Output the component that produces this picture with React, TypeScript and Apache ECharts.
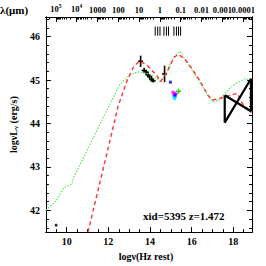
import React, { useEffect, useRef } from "react";
import * as echarts from "echarts";

const X_RANGE = [9, 18.9];
const Y_RANGE = [41.5, 46.45];
const C_LOG = 14.4768; // log10(c in micron/s)

const xMajor = [10, 12, 14, 16, 18];
const xMinor = [9, 9.5, 10, 10.5, 11, 11.5, 12, 12.5, 13, 13.5, 14, 14.5, 15, 15.5, 16, 16.5, 17, 17.5, 18, 18.5];
const yMajor = [42, 43, 44, 45, 46];
const lambdaDecades = [5, 4, 3, 2, 1, 0, -1, -2, -3, -4];
const lambdaLabels = ["10{sup|5}", "10{sup|4}", "1000", "100", "10", "1", "0.1", "0.01", "0.001", "0.0001"];

const greenTemplate = [
  [9.0, 42.0], [9.49, 42.22], [9.86, 42.52], [10.24, 42.6], [10.35, 42.78], [10.9, 43.31],
  [12.53, 44.88], [12.84, 45.03], [13.06, 45.12], [13.42, 45.19], [13.96, 45.14], [14.3, 45.05],
  [14.5, 44.95], [14.7, 45.1], [15.0, 45.4], [15.2, 45.55], [15.44, 45.66], [15.59, 45.55],
  [15.9, 45.33], [16.19, 45.1], [16.5, 44.87], [16.78, 44.65], [17.0, 44.5], [17.3, 44.54],
  [17.6, 44.69], [17.85, 44.82], [18.12, 44.92], [18.57, 45.03], [18.79, 44.99], [18.87, 44.77],
];

const redModel = [
  [11.02, 41.5], [11.95, 43.35], [12.47, 44.4], [12.91, 45.0], [13.21, 45.3], [13.5, 45.44],
  [13.88, 45.33], [14.33, 45.1], [14.5, 44.96], [14.85, 45.21], [15.15, 45.52], [15.37, 45.59],
  [15.67, 45.48], [16.0, 45.27], [16.33, 45.03], [16.78, 44.65], [17.0, 44.54], [17.38, 44.58],
  [17.67, 44.62], [18.0, 44.67], [18.2, 44.69], [18.42, 44.47], [18.87, 44.24],
];

const xrayBowtie = [
  [17.59, 44.65], [18.85, 44.28], [18.85, 45.03], [17.59, 44.02], [17.59, 44.65],
];

// [logNu, logNuLnu, error]
const blackPoints = [
  [13.55, 45.43, 0.13], [13.72, 45.22, 0.06], [13.82, 45.18, 0.05], [13.9, 45.12, 0.06],
  [13.98, 45.08, 0.05], [14.08, 45.02, 0.05], [14.15, 44.98, 0.04], [14.7, 45.14, 0.19],
];
const greenPoints = [[14.1, 45.0, 0.03], [15.37, 44.74, 0.06]];
const bluePoints = [[14.98, 44.95], [15.2, 44.65]];
const magentaPoints = [[15.1, 44.72], [15.18, 44.7], [15.25, 44.68], [15.14, 44.66]];
const cyanPoints = [[15.15, 44.6], [15.22, 44.62], [15.19, 44.57]];
const lowPoint = [[9.49, 41.66]];

const filterNu = [14.25, 14.37, 14.48, 14.67, 14.79, 14.89, 15.15, 15.27, 15.37, 15.47];
const FILTER_Y = [46.02, 46.23];

const FONT = "Liberation Serif";

export default function App() {
  const ref = useRef<HTMLDivElement>(null);
  useEffect(() => {
    if (!ref.current) return;
    const chart = echarts.init(ref.current, null, { renderer: "svg" });

    const topMajor = lambdaDecades.map((k) => C_LOG - k);
    const topMajorA = topMajor.filter((_, i) => i % 2 === 0);
    const topMajorB = topMajor.filter((_, i) => i % 2 === 1);
    const topMinor: number[] = [];
    for (let k = 6; k >= -5; k--) {
      for (let m = 2; m <= 9; m++) {
        const v = C_LOG - k - Math.log10(m);
        if (v >= X_RANGE[0] && v <= X_RANGE[1]) topMinor.push(v);
      }
    }
    const yMinor: number[] = [];
    for (let i = 0; i < 25; i++) {
      const v = Math.round((41.6 + i * 0.2) * 10) / 10;
      if (v <= Y_RANGE[1]) yMinor.push(v);
    }

    const baseX = {
      type: "value",
      min: X_RANGE[0],
      max: X_RANGE[1],
      splitLine: { show: false },
      axisLine: { show: true, lineStyle: { color: "#000", width: 1 } },
    };
    const baseY = {
      type: "value",
      min: Y_RANGE[0],
      max: Y_RANGE[1],
      splitLine: { show: false },
      axisLine: { show: true, lineStyle: { color: "#000", width: 1 } },
    };

    const errRender = (color: string) => (params: any, api: any) => {
      const x = api.value(0), y = api.value(1), e = api.value(2);
      const p = api.coord([x, y]);
      const hi = api.coord([x, y + e]);
      const lo = api.coord([x, y - e]);
      return {
        type: "group",
        children: [
          { type: "line", shape: { x1: p[0], y1: hi[1], x2: p[0], y2: lo[1] }, style: { stroke: color, lineWidth: 1.6 } },
          { type: "line", shape: { x1: p[0] - 2.5, y1: p[1], x2: p[0] + 2.5, y2: p[1] }, style: { stroke: color, lineWidth: 1.6 } },
        ],
      };
    };

    const labelStyle = { fontFamily: FONT, fontSize: 10, fontWeight: "bold", color: "#000" };

    const topLabel = (values: number[]) => ({
      ...baseX,
      position: "top",
      axisTick: { show: true, inside: true, length: 5, customValues: values, lineStyle: { color: "#000" } },
      axisLabel: {
        customValues: values,
        ...labelStyle,
        fontSize: 8.5,
        margin: 3,
        showMinLabel: true,
        showMaxLabel: true,
        formatter: (v: number) => {
          const k = Math.round(C_LOG - v);
          const i = lambdaDecades.indexOf(k);
          return i >= 0 ? lambdaLabels[i] : "";
        },
        rich: {
          sup: { fontFamily: FONT, fontSize: 5.5, fontWeight: "bold", color: "#000", verticalAlign: "top", padding: [0, 0, 5, 0] },
        },
      },
    });

    const option: any = {
      animation: false,
      backgroundColor: "#fff",
      grid: { left: 29, right: 14, top: 17, bottom: 29 },
      xAxis: [
        {
          ...baseX,
          position: "bottom",
          name: "log\u03bd(Hz rest)",
          nameLocation: "middle",
          nameGap: 16,
          nameTextStyle: { ...labelStyle, fontSize: 10, padding: [0, 6, 0, 0] },
          axisTick: { show: true, inside: true, length: 5, customValues: xMajor, lineStyle: { color: "#000" } },
          axisLabel: { customValues: xMajor, ...labelStyle, margin: 4, showMinLabel: true, showMaxLabel: true },
        },
        {
          ...baseX,
          position: "bottom",
          axisTick: { show: true, inside: true, length: 3, customValues: xMinor, lineStyle: { color: "#000" } },
          axisLabel: { show: false },
        },
        topLabel(topMajorA),
        topLabel(topMajorB),
        {
          ...baseX,
          position: "top",
          axisTick: { show: true, inside: true, length: 2.5, customValues: topMinor, lineStyle: { color: "#000" } },
          axisLabel: { show: false },
        },
      ],
      yAxis: [
        {
          ...baseY,
          position: "left",
          name: "log\u03bdL{sub|\u03bd} (erg/s)",
          nameLocation: "middle",
          nameGap: 19,
          nameTextStyle: {
            ...labelStyle,
            fontSize: 10,
            rich: { sub: { fontFamily: FONT, fontSize: 7, fontWeight: "bold", color: "#000", padding: [5, 0, 0, 0] } },
          },
          axisTick: { show: true, inside: true, length: 5, customValues: yMajor, lineStyle: { color: "#000" } },
          axisLabel: { customValues: yMajor, ...labelStyle, margin: 6, showMinLabel: true, showMaxLabel: true },
        },
        {
          ...baseY,
          position: "left",
          axisTick: { show: true, inside: true, length: 3, customValues: yMinor, lineStyle: { color: "#000" } },
          axisLabel: { show: false },
        },
        {
          ...baseY,
          position: "right",
          axisTick: { show: true, inside: true, length: 5, customValues: yMajor, lineStyle: { color: "#000" } },
          axisLabel: { show: false },
        },
        {
          ...baseY,
          position: "right",
          axisTick: { show: true, inside: true, length: 3, customValues: yMinor, lineStyle: { color: "#000" } },
          axisLabel: { show: false },
        },
      ],
      graphic: [
        { type: "text", left: 0, top: 4, style: { text: "\u03bb(\u03bcm)", font: `bold 11px "${FONT}"`, fill: "#000" } },
        { type: "text", left: 143, top: 210, style: { text: "xid=5395 z=1.472", font: `bold 11px "${FONT}"`, fill: "#000" } },
      ],
      series: [
        {
          type: "line",
          data: greenTemplate,
          xAxisIndex: 0,
          yAxisIndex: 0,
          symbol: "none",
          lineStyle: { color: "#55ee55", width: 1.2, type: [1.5, 1.5] },
        },
        {
          type: "line",
          data: redModel,
          xAxisIndex: 0,
          yAxisIndex: 0,
          symbol: "none",
          lineStyle: { color: "#ff3333", width: 1.4, type: [4, 3] },
        },
        {
          type: "line",
          data: xrayBowtie,
          xAxisIndex: 0,
          yAxisIndex: 0,
          symbol: "none",
          lineStyle: { color: "#000", width: 2.2 },
        },
        {
          type: "custom",
          xAxisIndex: 0,
          yAxisIndex: 0,
          data: filterNu.map((v) => [v]),
          renderItem: (params: any, api: any) => {
            const a = api.coord([api.value(0), FILTER_Y[0]]);
            const b = api.coord([api.value(0), FILTER_Y[1]]);
            return { type: "line", shape: { x1: a[0], y1: a[1], x2: b[0], y2: b[1] }, style: { stroke: "#000", lineWidth: 1 } };
          },
        },
        {
          type: "custom",
          xAxisIndex: 0,
          yAxisIndex: 0,
          data: greenPoints,
          encode: { x: 0, y: 1 },
          renderItem: errRender("#22dd22"),
        },
        {
          type: "custom",
          xAxisIndex: 0,
          yAxisIndex: 0,
          data: blackPoints,
          encode: { x: 0, y: 1 },
          renderItem: errRender("#000"),
        },
        {
          type: "scatter",
          xAxisIndex: 0,
          yAxisIndex: 0,
          data: magentaPoints,
          symbol: "rect",
          symbolSize: 3,
          itemStyle: { color: "#ff00ff" },
        },
        {
          type: "scatter",
          xAxisIndex: 0,
          yAxisIndex: 0,
          data: cyanPoints,
          symbol: "rect",
          symbolSize: 3,
          itemStyle: { color: "#00e0ff" },
        },
        {
          type: "scatter",
          xAxisIndex: 0,
          yAxisIndex: 0,
          data: bluePoints,
          symbol: "rect",
          symbolSize: 3,
          itemStyle: { color: "#0000ff" },
        },
        {
          type: "scatter",
          xAxisIndex: 0,
          yAxisIndex: 0,
          data: lowPoint,
          symbol: "circle",
          symbolSize: 3,
          itemStyle: { color: "#000" },
        },
      ],
    };
    chart.setOption(option);
    return () => chart.dispose();
  }, []);
  return <div ref={ref} style={{ width: 266, height: 266, position: "absolute", left: 0, top: 0 }} />;
}
